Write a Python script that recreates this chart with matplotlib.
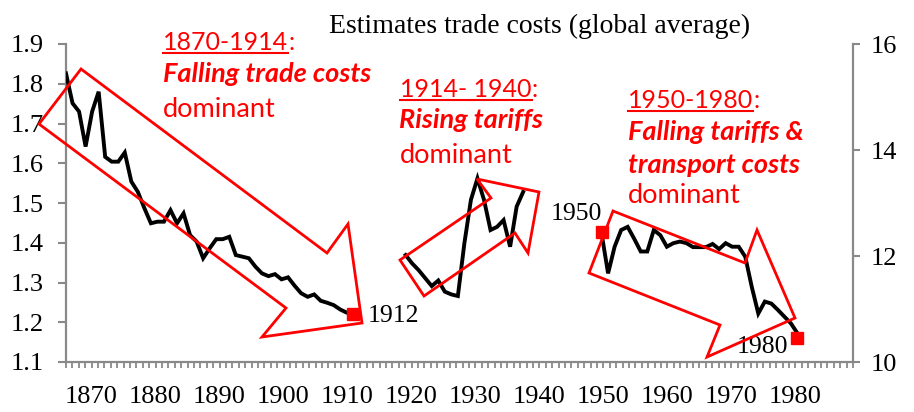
import matplotlib
matplotlib.use('Agg')
import matplotlib.pyplot as plt
from matplotlib.transforms import Affine2D
from matplotlib.patches import Polygon
from matplotlib.lines import Line2D

# ---------------- data ----------------
years_1 = list(range(1868, 1913))
costs_1 = [1.826, 1.751, 1.730, 1.642, 1.730, 1.780, 1.616, 1.604, 1.604, 1.627,
           1.554, 1.528, 1.487, 1.449, 1.453, 1.453, 1.482, 1.449, 1.474, 1.419,
           1.403, 1.361, 1.386, 1.409, 1.409, 1.415, 1.369, 1.365, 1.361, 1.340,
           1.323, 1.316, 1.321, 1.308, 1.313, 1.292, 1.273, 1.264, 1.270, 1.254,
           1.249, 1.243, 1.232, 1.224, 1.222]
years_2 = list(range(1920, 1939))
costs_2 = [1.369, 1.348, 1.331, 1.311, 1.291, 1.305, 1.277, 1.270, 1.266, 1.399,
           1.508, 1.562, 1.508, 1.432, 1.440, 1.457, 1.390, 1.491, 1.528]
years_3 = list(range(1950, 1981))
costs_3 = [1.424, 1.323, 1.390, 1.432, 1.440, 1.410, 1.378, 1.378, 1.432, 1.419,
           1.390, 1.399, 1.403, 1.399, 1.389, 1.389, 1.389, 1.397, 1.384, 1.399,
           1.390, 1.390, 1.365, 1.289, 1.222, 1.252, 1.247, 1.231, 1.214, 1.197,
           1.172]
marker_years = [1912, 1950, 1980]
marker_costs = [1.222, 1.426, 1.161]
marker_labels = ['1912', '1950', '1980']

left_ticks = [1.1, 1.2, 1.3, 1.4, 1.5, 1.6, 1.7, 1.8, 1.9]
right_ticks = [10, 12, 14, 16]
decade_ticks = list(range(1870, 1990, 10))
year_ticks = list(range(1866, 1990))

title = 'Estimates trade costs (global average)'

# ---------------- figure ----------------
W, H = 914, 412
fig = plt.figure(figsize=(W / 100, H / 100), dpi=100)
tr = Affine2D().scale(1 / W, -1 / H).translate(0, 1) + fig.transFigure

ax = fig.add_axes([66 / W, 1 - 362 / H, (853 - 66) / W, (362 - 44) / H])
ax2 = ax.twinx()
ax3 = ax.twiny()   # category (label) axis of the overlaid chart
gray = '#898989'
serif = 'Liberation Serif'
sans = 'Lato'
red = '#FF0000'

for yy, cc in [(years_1, costs_1), (years_2, costs_2), (years_3, costs_3)]:
    ax.plot(yy, cc, color='black', lw=2.8, solid_joinstyle='miter', zorder=3)
ax.plot(marker_years, marker_costs, ls='none', marker='s', ms=8.5,
        color=red, zorder=4, clip_on=False)

ax.set_xlim(1868, 1988.5)
ax.set_ylim(1.1, 1.9)
ax2.set_ylim(10, 16)
ax3.set_xlim(1866, 1989)

ax.tick_params(axis='x', which='both', bottom=False, top=False,
               labelbottom=False, labeltop=False)

ax3.xaxis.set_ticks_position('bottom')
ax3.xaxis.set_label_position('bottom')
ax3.set_xticks(decade_ticks)
ax3.set_xticklabels([str(d) for d in decade_ticks])
ax3.set_xticks(year_ticks, minor=True)
ax3.tick_params(axis='x', which='both', direction='out', length=4.5, width=1.3,
                color=gray, pad=12.5, labelsize=19)

ax.set_yticks(left_ticks)
ax.set_yticklabels(['%.1f' % v for v in left_ticks])
ax2.set_yticks(right_ticks)
ax2.set_yticklabels([str(v) for v in right_ticks])

ax.tick_params(axis='y', which='major', direction='out', length=5.8, width=1.5,
               color=gray, pad=10, labelsize=19)
ax2.tick_params(axis='y', which='major', direction='out', length=5, width=1.5,
                color=gray, pad=8, labelsize=19)
for lab in ax3.get_xticklabels() + ax.get_yticklabels() + ax2.get_yticklabels():
    lab.set_fontfamily(serif)

for a in (ax, ax2, ax3):
    for s in a.spines.values():
        s.set_color(gray)
        s.set_linewidth(1.6)
        s.set_visible(False)
ax.spines['left'].set_visible(True)
ax.spines['bottom'].set_visible(True)
ax2.spines['right'].set_visible(True)

fig.text(540 / W, 1 - 33 / H, title, ha='center', va='baseline',
         fontsize=20, family=serif, color='black')

# point labels
ax.annotate(marker_labels[0], (marker_years[0], marker_costs[0]), xytext=(14, -8),
            textcoords='offset pixels', ha='left', va='baseline', fontsize=18.5, family=serif)
ax.annotate(marker_labels[1], (marker_years[1], marker_costs[1]), xytext=(0, 12),
            textcoords='offset pixels', ha='right', va='baseline', fontsize=18.5, family=serif)
ax.annotate(marker_labels[2], (marker_years[2], marker_costs[2]), xytext=(-9, -15),
            textcoords='offset pixels', ha='right', va='baseline', fontsize=18.5, family=serif)

# arrows (decorative shapes, figure pixel coordinates)
arrows = [
    [(39, 124), (81, 69), (327, 253), (348, 224), (362, 323), (262, 337), (286, 308)],
    [(400, 260), (424, 296), (515, 233), (528, 253), (539, 192), (477, 179), (491, 198)],
    [(613, 211), (745, 263), (757, 230), (795, 318), (707, 357), (720, 325), (589, 273)],
]
for pts in arrows:
    fig.add_artist(Polygon(pts, closed=True, fill=False, edgecolor=red, lw=2.0,
                           transform=tr, zorder=5, joinstyle='miter'))

# red annotation texts
fs = 19.5
fs_head = 18
fig.canvas.draw()
renderer = fig.canvas.get_renderer()


def heading(x, y, s):
    t = fig.text(x, y, s, transform=tr, ha='left', va='baseline', fontsize=fs_head,
                 family=sans, color=red)
    bb = t.get_window_extent(renderer)
    uy = y + 3
    fig.add_artist(Line2D([bb.x0, bb.x1], [uy, uy], color=red, lw=1.5, transform=tr))
    fig.text(bb.x1, y, ':', transform=tr, ha='left', va='baseline', fontsize=fs_head,
             family=sans, color=red)


def body(x, y, s, bold=False):
    fig.text(x, y, s, transform=tr, ha='left', va='baseline', fontsize=fs,
             family=sans, color=red, fontweight='bold' if bold else 'normal',
             fontstyle='italic' if bold else 'normal')


heading(163, 50, '1870-1914')
body(163, 82, 'Falling trade costs', True)
body(163, 117, 'dominant')

heading(400, 97, '1914- 1940')
body(399, 128, 'Rising tariffs', True)
body(400, 163, 'dominant')

heading(628, 108, '1950-1980')
body(628, 140, 'Falling tariffs &', True)
body(628, 173, 'transport costs', True)
body(628, 203, 'dominant')

fig.savefig('out.png', dpi=100)
